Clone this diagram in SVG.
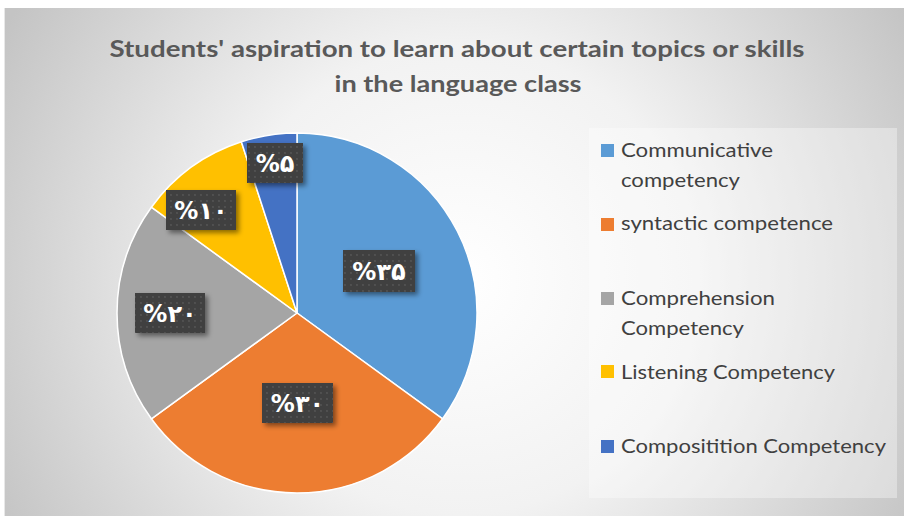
<svg xmlns="http://www.w3.org/2000/svg" width="904" height="516" viewBox="0 0 904 516">
  <defs>
    <radialGradient id="bg" cx="460" cy="280" r="520" gradientUnits="userSpaceOnUse">
      <stop offset="0" stop-color="#ffffff"/>
      <stop offset="0.45" stop-color="#f2f2f2"/>
      <stop offset="1" stop-color="#c4c4c4"/>
    </radialGradient>
    <pattern id="dots" width="6" height="6" patternUnits="userSpaceOnUse">
      <rect width="6" height="6" fill="#3f3f3f"/>
      <circle cx="3" cy="3" r="0.9" fill="#585858"/>
    </pattern>
    <filter id="shadow" x="-20%" y="-20%" width="150%" height="160%">
      <feDropShadow dx="3" dy="3" stdDeviation="2.5" flood-color="#000" flood-opacity="0.45"/>
    </filter>
    <style>
      .title { font-family: Lato, "Open Sans", "Liberation Sans", sans-serif; font-weight: 700; font-size: 22px; fill: #595959; }
      .leg { font-family: Lato, "Open Sans", "Liberation Sans", sans-serif; font-size: 19px; fill: #404040; }
      .slice { stroke: #ffffff; stroke-width: 1.5; stroke-linejoin: round; }
      .lblbox { fill: url(#dots); filter: url(#shadow); }
      .lbl { font-family: "DejaVu Sans", "Noto Sans", sans-serif; font-weight: 700; font-size: 24px; fill: #ffffff; text-anchor: middle; direction: ltr; }
    </style>
  </defs>

  <rect x="0" y="0" width="904" height="516" fill="#ffffff"/>
  <rect x="4" y="8" width="900" height="508" fill="url(#bg)"/>
  <line x1="4.5" y1="8" x2="4.5" y2="516" stroke="#e8e8e8" stroke-width="1"/>

  <g id="title">
    <text class="title" x="457" y="57" text-anchor="middle" textLength="695" lengthAdjust="spacingAndGlyphs">Students' aspiration to learn about certain topics or skills</text>
    <text class="title" x="458" y="92" text-anchor="middle" textLength="247" lengthAdjust="spacingAndGlyphs">in the language class</text>
  </g>

  <g id="pie">
    <g id="slice-communicative"><path class="slice" fill="#5B9BD5" d="M297,313 L297,133 A180,180 0 0,1 442.62,418.80 Z"/></g>
    <g id="slice-syntactic"><path class="slice" fill="#ED7D31" d="M297,313 L442.62,418.80 A180,180 0 0,1 151.38,418.80 Z"/></g>
    <g id="slice-comprehension"><path class="slice" fill="#A5A5A5" d="M297,313 L151.38,418.80 A180,180 0 0,1 151.38,207.20 Z"/></g>
    <g id="slice-listening"><path class="slice" fill="#FFC000" d="M297,313 L151.38,207.20 A180,180 0 0,1 241.38,141.81 Z"/></g>
    <g id="slice-composition"><path class="slice" fill="#4472C4" d="M297,313 L241.38,141.81 A180,180 0 0,1 297,133 Z"/></g>
  </g>

  <g id="labels">
    <g id="label-35">
      <rect class="lblbox" x="343" y="250" width="72" height="42"/>
      <text class="lbl" x="379" y="280">%۳۵</text>
    </g>
    <g id="label-30">
      <rect class="lblbox" x="262" y="383" width="71" height="40"/>
      <text class="lbl" x="297.5" y="412">%۳۰</text>
    </g>
    <g id="label-20">
      <rect class="lblbox" x="135" y="293" width="70" height="40"/>
      <text class="lbl" x="170" y="322">%۲۰</text>
    </g>
    <g id="label-10">
      <rect class="lblbox" x="166" y="190" width="70" height="40"/>
      <text class="lbl" x="201" y="219">%۱۰</text>
    </g>
    <g id="label-5">
      <rect class="lblbox" x="247" y="143" width="56" height="40"/>
      <text class="lbl" x="275" y="172">%۵</text>
    </g>
  </g>

  <g id="legend">
    <rect x="589" y="128" width="308" height="370" fill="#ffffff" fill-opacity="0.35"/>
    <g id="legend-communicative">
      <rect x="601" y="144" width="13" height="13" fill="#5B9BD5"/>
      <text class="leg" x="621" y="157" textLength="152" lengthAdjust="spacingAndGlyphs">Communicative</text>
      <text class="leg" x="621" y="187" textLength="119" lengthAdjust="spacingAndGlyphs">competency</text>
    </g>
    <g id="legend-syntactic">
      <rect x="601" y="218" width="13" height="13" fill="#ED7D31"/>
      <text class="leg" x="621" y="230" textLength="212" lengthAdjust="spacingAndGlyphs">syntactic competence</text>
    </g>
    <g id="legend-comprehension">
      <rect x="601" y="292" width="13" height="13" fill="#A5A5A5"/>
      <text class="leg" x="621" y="305" textLength="154" lengthAdjust="spacingAndGlyphs">Comprehension</text>
      <text class="leg" x="621" y="335" textLength="123" lengthAdjust="spacingAndGlyphs">Competency</text>
    </g>
    <g id="legend-listening">
      <rect x="601" y="365" width="13" height="13" fill="#FFC000"/>
      <text class="leg" x="621" y="379" textLength="214" lengthAdjust="spacingAndGlyphs">Listening Competency</text>
    </g>
    <g id="legend-composition">
      <rect x="601" y="440" width="13" height="13" fill="#4472C4"/>
      <text class="leg" x="621" y="453" textLength="265" lengthAdjust="spacingAndGlyphs">Compositition Competency</text>
    </g>
  </g>
</svg>
